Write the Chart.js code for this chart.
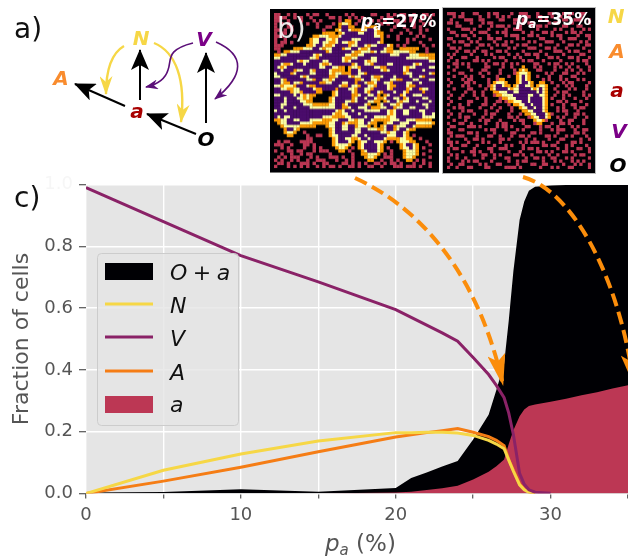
<!DOCTYPE html>
<html>
<head>
<meta charset="utf-8">
<script src="https://cdn.jsdelivr.net/npm/chart.js@4"></script>
<style>
html, body { margin: 0; padding: 0; background: #fff; }
#page { position: relative; width: 628px; height: 559px; overflow: hidden; font-family: "DejaVu Sans"; }
canvas { position: absolute; display: block; }
#main { left: 0; top: 0; }
#latticeA { left: 270px; top: 9px; background: #000004; border-bottom: 1px solid #777; }
#latticeB { left: 443px; top: 8px; background: #000004; outline: 1px solid #bbb; }
#notes { position: absolute; left: 0; top: 0; }
</style>
</head>
<body>
<div id="page">
<canvas id="main" width="634" height="559"></canvas>
<canvas id="latticeA" width="169" height="164"></canvas>
<canvas id="latticeB" width="152" height="165"></canvas>
<svg id="notes" width="628" height="559" font-family="DejaVu Sans">
  <defs>
    <marker id="headBlack" markerUnits="userSpaceOnUse" viewBox="0 0 21 18" refX="20" refY="9" markerWidth="21" markerHeight="18" orient="auto"><path d="M0,0 L21,9 L0,18 L5,9z" fill="#000"/></marker>
    <marker id="headYellow" markerUnits="userSpaceOnUse" viewBox="0 0 19 13" refX="18" refY="6.5" markerWidth="19" markerHeight="13" orient="auto"><path d="M0,0 L19,6.5 L0,13 L6,6.5z" fill="#F6D746"/></marker>
    <marker id="headPurple" markerUnits="userSpaceOnUse" viewBox="0 0 13 10" refX="12" refY="5" markerWidth="13" markerHeight="10" orient="auto"><path d="M0,0 L13,5 L0,10 L4,5z" fill="#5B0F78"/></marker>
    <marker id="headOrange" markerUnits="userSpaceOnUse" viewBox="0 0 32 18" refX="31" refY="9" markerWidth="32" markerHeight="18" orient="auto"><path d="M0,0 L32,9 L0,18 L7,9z" fill="#FB8D0B"/></marker>
  </defs>

  <!-- a) interaction diagram -->
  <text x="14" y="38" font-size="28" fill="#111">a)</text>
  <path d="M125,106 L75,84" stroke="#000" stroke-width="2" fill="none" marker-end="url(#headBlack)"/>
  <path d="M140,100 L140,50" stroke="#000" stroke-width="2" fill="none" marker-end="url(#headBlack)"/>
  <path d="M196,134 L147,114" stroke="#000" stroke-width="2" fill="none" marker-end="url(#headBlack)"/>
  <path d="M206,123 L206,53" stroke="#000" stroke-width="2" fill="none" marker-end="url(#headBlack)"/>
  <path d="M124,46 C112,53 106,68 106,94" stroke="#F6D746" stroke-width="2.4" fill="none" marker-end="url(#headYellow)"/>
  <path d="M154,43 C176,52 186,80 181,122" stroke="#F6D746" stroke-width="2.4" fill="none" marker-end="url(#headYellow)"/>
  <path d="M193,43 C165,50 172,60 168,70 C165,80 155,85 146,87" stroke="#5B0F78" stroke-width="1.6" fill="none" marker-end="url(#headPurple)"/>
  <path d="M216,42 C245,55 245,75 215,99" stroke="#5B0F78" stroke-width="1.6" fill="none" marker-end="url(#headPurple)"/>
  <g font-size="20" font-weight="bold" font-style="italic" text-anchor="middle">
    <text x="141" y="45" fill="#F6D746">N</text>
    <text x="204" y="46" fill="#7B0087">V</text>
    <text x="61" y="85" fill="#F98C2E">A</text>
    <text x="137" y="118" fill="#A90000">a</text>
    <text x="206" y="146" fill="#000">O</text>
  </g>

  <!-- b) labels -->
  <text x="277" y="38" font-size="28" fill="#fff" fill-opacity="0.9">b)</text>
  <text x="361" y="27" font-size="17" font-weight="bold" fill="#fff"><tspan font-style="italic">p</tspan><tspan font-style="italic" font-size="12" dy="3">a</tspan><tspan dy="-3">=27%</tspan></text>
  <text x="516" y="25" font-size="17" font-weight="bold" fill="#fff"><tspan font-style="italic">p</tspan><tspan font-style="italic" font-size="12" dy="3">a</tspan><tspan dy="-3">=35%</tspan></text>
  <g font-size="20" font-weight="bold" font-style="italic" text-anchor="middle">
    <text x="616" y="23" fill="#F6D746">N</text>
    <text x="617" y="58" fill="#F98C2E">A</text>
    <text x="617" y="97" fill="#A90000">a</text>
    <text x="619" y="138" fill="#7B0087">V</text>
    <text x="618" y="172" fill="#000">O</text>
  </g>

  <!-- c) labels, legend and the dashed arrows -->
  <text x="14" y="207" font-size="28" fill="#111">c)</text>
  <text x="325" y="551" font-size="23" fill="#555"><tspan font-style="italic">p</tspan><tspan font-style="italic" font-size="15" dy="4">a</tspan><tspan dy="-4"> (%)</tspan></text>

  <rect x="97.5" y="253.5" width="141" height="172" rx="4" fill="#E5E5E5" fill-opacity="0.8" stroke="#ccc"/>
  <rect x="105" y="263" width="48" height="17" fill="#000004"/>
  <line x1="105" x2="153" y1="304" y2="304" stroke="#F6D746" stroke-width="3"/>
  <line x1="105" x2="153" y1="337" y2="337" stroke="#8A2267" stroke-width="3"/>
  <line x1="105" x2="153" y1="371" y2="371" stroke="#F57D15" stroke-width="3"/>
  <rect x="105" y="396" width="48" height="17" fill="#BC3754"/>
  <g font-size="22" fill="#111">
    <text x="170" y="280"><tspan font-style="italic">O</tspan>&#x2005;+&#x2005;<tspan font-style="italic">a</tspan></text>
    <text x="170" y="313" font-style="italic">N</text>
    <text x="170" y="346" font-style="italic">V</text>
    <text x="170" y="380" font-style="italic">A</text>
    <text x="170" y="412" font-style="italic">a</text>
  </g>

  <path d="M355,178 C425,210 480,280 503,385" stroke="#FB8D0B" stroke-width="4" stroke-dasharray="13 6" fill="none" marker-end="url(#headOrange)"/>
  <path d="M523,177 C570,190 618,270 634,385" stroke="#FB8D0B" stroke-width="4" stroke-dasharray="13 6" fill="none" marker-end="url(#headOrange)"/>
</svg>
</div>

<script>
// occupation probability of a (%) and the stationary fraction of each kind of cell
const pa = [0, 5, 10, 15, 20, 21, 22, 23, 24, 25, 26, 26.5, 27, 27.3, 27.6, 28, 28.3, 28.6, 29, 30, 31, 32, 33, 34, 35];
const oPlusA = [0.003, 0.005, 0.014, 0.006, 0.018, 0.05, 0.068, 0.087, 0.105, 0.175, 0.255, 0.335, 0.42, 0.56, 0.72, 0.885, 0.945, 0.98, 0.993, 0.997, 0.998, 0.998, 0.998, 0.998, 0.998];
const fracA = [0, 0, 0, 0, 0.003, 0.006, 0.011, 0.017, 0.025, 0.045, 0.07, 0.088, 0.11, 0.16, 0.205, 0.25, 0.272, 0.283, 0.288, 0.297, 0.307, 0.318, 0.328, 0.34, 0.35];
const fracN = [0, 0.075, 0.128, 0.17, 0.197, 0.197, 0.198, 0.198, 0.196, 0.188, 0.172, 0.16, 0.145, 0.108, 0.072, 0.028, 0.012, 0.004, 0, null, null, null, null, null, null];
const fracV = [0.99, 0.88, 0.77, 0.685, 0.595, 0.57, 0.545, 0.52, 0.493, 0.44, 0.385, 0.35, 0.31, 0.26, 0.19, 0.065, 0.03, 0.012, 0.004, 0.001, null, null, null, null, null];
const fracBigA = [0, 0.04, 0.085, 0.135, 0.183, 0.19, 0.197, 0.203, 0.21, 0.198, 0.184, 0.172, 0.155, 0.11, 0.075, 0.03, 0.014, 0.005, 0, null, null, null, null, null, null];
const yTicks = [0, 0.2, 0.4, 0.6, 0.8, 1];

// lattice snapshots, one string per row: . empty  r a  p V  o A  y N
const rows27 = [
  "rr..r.r...r.rr..r.....r.r.....rr...r.r.rr..r..rr.r",
  "rrrr..r.r..r.....rr.r..r.r.r.....r.rr...r.r...r.r.",
  "rr..r...r...r.r.....r.oo..r...r.r.r..rr.r.rr.r....",
  "r.r.r.....r..r....r.oyyo.r...r...r.r..r....r..r.r.",
  "r...rr.......r..rr..oppoo...oooo.....r..r..r.r....",
  "rr.r.r.........r...oyppyooooyppyo...r....r...r.r..",
  "r.rr...........oooo.oyppppyypppyoo.....r..r..r....",
  "rrr...r.....ooyyyoooyppppppppppyyo.r..r.....r.r...",
  "r..r.......oyyppyyoyppppyyyppppppo....r..r.r....r.",
  "r.rr.r.....oyypyyooypyyooyppppppyo.......r...r...",
  "rrr.......ooyppyooyppppoyyppyoyypppyo.r.r.....r..r",
  "rr....oooyyyppyoyypppoyyppyooyppppyoo..oooooo..r..",
  ".r.ooyyyppppppppoyppppppyooyyyoypyyooyyyyyoo...r..",
  "ooyyppppppppyoypppppppyyooyyppppppppyyypppyyyooooo",
  "yypppppppppyyopppppppyooyyppppyypppppppppyyyyyyyoo",
  "pppppppyoyyppppyyppppyoyppppyoyyppppppppppppppppyy",
  "ppyooypppyppppyooyppppppoyppyyoppppyyppppppyoypppp",
  "pyoyppppppppppyyppyyoo.oyyoppppyyoopppppyoyyppppyy",
  "ppypppoyyppyoppppyoooo.oppyppppppyoyppppyoppppyppp",
  "yppppoyppppyyppppyoyyoooppyyopppppppppppoyypppppyo",
  "yyppppppyoyppppppooypppyoyypppyooypppyppppyppyoppp",
  "ppyoppppppyyoppyyoyppppppooyppyyopppyyoopppyypppyy",
  "ppyoopyyopppppooyypppyyppoppyooyppyyoppppyyppypppp",
  "yyoyyyopppyoopppppppyoopyyoppyyopppyoopppyoopppppp",
  "ppyyooyyppppyooppppopppyyoppyyoppppyoppppoyppoyypp",
  "pppppoyyoppppoo...oyppppyoppyoppyopppyppyoppppoppp",
  "yyppppypyoyoo.....oyppppooyppyypo.oypppoyppyyypppp",
  "pppypppyyoyo.....oypppppoyppyppyooyppyypoyppppyypp",
  "pppyppppyyoo.....oypppyyoypppyyoo.oyppyoyyppypppyp",
  "ppyypppppyyyoooooyyppoypppppyo..oyppyyoyppppppyypp",
  "ppypppyppppyyyyyyyyppooyppyyypoooyyppoyyppyypppypp",
  "yppypppppppppppppppyoyppypppyyyyyppyoyppyypppyyppp",
  "ppppppppppppppppppyooyypppyppppppppyoyppyyppppyppy",
  "pypyyppppppppppyyyooooyyppppyppyyyyoyyppppppppyyyy",
  "ooyyppyypppyyyyoooyypppyyoyyppyoooooyyyppyyyooooo.",
  ".oyyppppyyyyoooooyyppoyoooyypyoo..oyyppyyyppyyyyyo",
  "..oyyyyyooooo...oyyppyyppoyyyo.o.oyppoyyyppyooooo.",
  "...oppyo.........oyppyyppyyppyyyooyppoyppyoo......",
  "...oyyo..r.......oyppppppyyppppppyyoyyppyo........",
  "....oo....r..rr..oyyppppyyppyppppppyyyppyo.r......",
  "..........rr......oyppyyooyppyppppyooooyyoo..r....",
  ".r.rr...rrrr......oypppyo.oyyppyyyo.r.oyyyoo...r..",
  "rrr..r...rr.r.....oyyyyo..oyppppyo.....oyppyo...r.",
  "..r.r....r..r.r....oyyo.r.oyppppyo.r...oyypyo.r...",
  "r...rr.rr...r.rrr...oo.r...oypppyo..r...oyyyo...r.",
  "..r..r..r.rr.....r......r..ooyyyo.r.r...oyyyo.r...",
  ".r.r.rrr...r.r...rrr.r..r...oyyo..rrr...oyyo....r",
  "r.r..r.r..r..rrr...r..r.r....oo..r..r.r..oo.r.r..",
  ".rr.r...rrr.r..rr....rr.r.r.r..rr.r.rr.r...r..r.r",
  "r...r.r.r.r..r.r.rr.r..rr.r..rr..r...rrr.rrr.r..r"
];
const rows35 = [
  "rrr..r...rr...r.rr....r..rrr...r...rr...r.rr..rr..",
  "..r.rr.....r..r..r.r.r.....rr..rr...r..r..r...r...",
  ".r....rrr..rr.....rr...rr.r.....r.r.....rr..rrr..r",
  "rr.r....r...r.rr.......r..r.rr.....r.rr....r.....r",
  "...rr......r...r.rrr.r...r...r.rr.r.....rr...rr...",
  "r....rrr.r....r.....r..rrr.....r.....r.r...r...r.r",
  ".rr.....r..rrr...r.rr.....r..r...rr.r....r.rr.r...",
  "...r.rr..r....r.....r.rrr...rr.r....r.rr.....r..rr",
  "rr.....r...r..rr.rr.....r.r.....rr.....r..rrr....r",
  "..r.rr..r.r.....r...r.r.....r.r...rrr...r.....r.r.",
  "r.....rr...rr.r..r.rr...r.rr....r.....r...rr.r..rr",
  ".rr.r.....r....r.....r.r....rrr...rr.r...r.....r..",
  "...r..rr.r..rr...rr.r.....r.....r....rrr..r.rr...r",
  "r.r.....r....r.r.....r..r..rr.rr..r.....r.....rr..",
  ".r...rr...r.....r.rr...r.r.....r...rr.r...rr.r...r",
  "r..r.....rr.r.r.....r.....r.rr...r.....r.....r.rr.",
  "..rr.r.r.....r..rr.r..r.r.....rr...r.rr..r.r....r.",
  "r..r...r.....rr....r..r...o...r.r....r.r..r..r...r",
  "..r.....r...rr....r....r.oyo...rr....r...r.r..r..r",
  "r...rr.....r..r...r....royyyo.....r.r...rr...r.r..",
  "..r...r.r...r....r...r..oypyo..r...r...r...rr.....",
  "r....r.rr.....r..roo....oypyo....r.r...r.r...r.r..",
  ".r....rr.r....r.oyyyo...oyppyo..oo..r...r.rr.....r",
  "r....r.r...r..royppyoo.oyppyyo.oyyo...r..r.r....r.",
  "..r....rr....r.oyppppyoyyppppyoypyo..r....r.r...r.",
  "r.....r..r..r...ooyyyppyyppppppypyo...r.rr.....r.",
  ".r...r...r..r...rooyyyypppppyyppyyo..r..r.r....r.r",
  "r...r.....r..r....rooyyyppppyppppyo.r...r...r...r.",
  ".r.....rr....r...rr.rooyyyppyppppyo...rr.r....r..",
  "r...r..r....rr..r....r.ooyyppypppyo.r...r..rr...r.",
  "..r.rr.....r...r..r...r..oyyppyppyo...r.r...r.rr..",
  "r....r.rr....r...r....r...ooyypppyo...r.rr...r....",
  ".r..r....r...r.rr....r...r.ooyypppyor....r..rr.r..",
  "r...r.rr....r..r.....rr.r...royyppyo..r.r...r...r.",
  "..r...r....r.rr...r....r.rr...oyyor....r..rr...r..",
  "r...rr..r....r...r.rr.....r...roo...r..rr.r....r..",
  ".rr....rrr.r.....r.rr.r....rr...r.rr..r....r.r....",
  "r...rr.......r.rr...r...r.r.....r...r.rrr...r..rr.",
  "rr.....rr.r.....r.....rr.....rr.r.....r.....rr.r..",
  ".r.rrr....r...rr..r...r..rr.r.....rr.r...r.r....r.",
  "r.....r..rr.r.....rr.r.....r..r....r...rr.....r..r",
  "rr.r...r....r.r...r......r.r.rrr.r....r....rr.r...",
  ".r...rr...r.....r...r.r...r......rr.rr...r.r....r.",
  "r.rr.....r....rr..rrr.....r.rr.r......r..r...rr..r",
  "r....r..rr.r...r.....r...r.....rr.r.r...rr.r.....r",
  ".r.r.....r..rr..r.r....rr.r..r.....r..r.....r.rr..",
  "r..r..r.....r...r...rr.....r..rr.r..rr...r.r.....r",
  "r....r.r.rr....r.....r..r.rr.....r...r.r...r.r.r..",
  ".r..rr.....r.r...rr.....r....rr..rr.....r...r.r..r",
  "r..r...rr....rr.....rrrr.r......r...r.r...rr.....r"
];

const cellColors = { r: '#BC3754', p: '#4A0C6B', o: '#FB9B06', y: '#FCFFA4' };

function cellsOf(rows, kind) {
    const cells = [];
    rows.forEach((row, j) => {
        for (let i = 0; i < 50; i++) {
            if (row[i] === kind) cells.push({ x: i, y: j });
        }
    });
    return cells;
}

function latticeChart(id, rows, radius) {
    return new Chart(document.getElementById(id), {
        type: 'scatter',
        data: {
            datasets: Object.keys(cellColors).map(kind => ({
                data: cellsOf(rows, kind),
                pointStyle: 'rect',
                pointRadius: radius,
                pointBorderWidth: 0,
                backgroundColor: cellColors[kind]
            }))
        },
        options: {
            responsive: false,
            animation: false,
            layout: { padding: 0 },
            plugins: { legend: { display: false }, tooltip: { enabled: false } },
            scales: {
                x: { display: false, min: -0.5, max: 49.5 },
                y: { display: false, min: -0.5, max: 49.5, reverse: true }
            }
        }
    });
}

latticeChart('latticeA', rows27, 2.44);
latticeChart('latticeB', rows35, 2.36);

const asPoints = values => values.map((v, i) => ({ x: pa[i], y: v }));

const plotBackground = {
    id: 'plotBackground',
    beforeDraw(chart) {
        const a = chart.chartArea;
        chart.ctx.fillStyle = '#E5E5E5';
        chart.ctx.fillRect(a.left, a.top, a.width, a.height);
    }
};

const tickFont = { family: 'DejaVu Sans', size: 18 };

new Chart(document.getElementById('main'), {
    type: 'line',
    data: {
        datasets: [
            { label: 'V', data: asPoints(fracV), borderColor: '#8A2267', borderWidth: 3, pointRadius: 0 },
            { label: 'N', data: asPoints(fracN), borderColor: '#F6D746', borderWidth: 3, pointRadius: 0 },
            { label: 'A', data: asPoints(fracBigA), borderColor: '#F57D15', borderWidth: 3, pointRadius: 0 },
            { label: 'a', data: asPoints(fracA), borderWidth: 0, backgroundColor: '#BC3754', fill: 'origin', pointRadius: 0 },
            { label: 'O+a', data: asPoints(oPlusA), borderWidth: 0, backgroundColor: '#000004', fill: 'origin', pointRadius: 0 }
        ]
    },
    plugins: [plotBackground],
    options: {
        responsive: false,
        animation: false,
        layout: { padding: { top: 184.5, left: 0, right: 0, bottom: 0 } },
        plugins: { legend: { display: false }, tooltip: { enabled: false } },
        scales: {
            x: {
                type: 'linear',
                min: 0,
                max: 35,
                afterBuildTicks: axis => { axis.ticks = [0, 5, 10, 15, 20, 25, 30, 35].map(value => ({ value })); },
                afterFit: axis => { axis.height = 65.5; },
                border: { display: false },
                grid: { color: '#fff', lineWidth: 1.4, tickColor: '#555', tickLength: 5, tickWidth: 1.2 },
                ticks: {
                    autoSkip: false,
                    maxRotation: 0,
                    padding: 6,
                    color: '#555',
                    font: tickFont,
                    callback: v => (v % 10 === 0 ? String(v) : '')
                }
            },
            y: {
                min: 0,
                max: 1,
                afterBuildTicks: axis => { axis.ticks = yTicks.map(value => ({ value })); },
                afterFit: axis => { axis.width = 86; },
                border: { display: false },
                title: {
                    display: true,
                    text: 'Fraction of cells',
                    color: '#555',
                    font: { family: 'DejaVu Sans', size: 22 },
                    padding: { top: 9, bottom: 0 }
                },
                grid: { color: '#fff', lineWidth: 1.4, tickColor: '#555', tickLength: 7, tickWidth: 1.2 },
                ticks: {
                    padding: 6,
                    font: tickFont,
                    // 1.0 sits under the white mask of the panels in the original
                    color: ctx => (ctx.tick.value === 1 ? '#f6f6f6' : '#555'),
                    callback: v => v.toFixed(1)
                }
            }
        }
    }
});
</script>
</body>
</html>
